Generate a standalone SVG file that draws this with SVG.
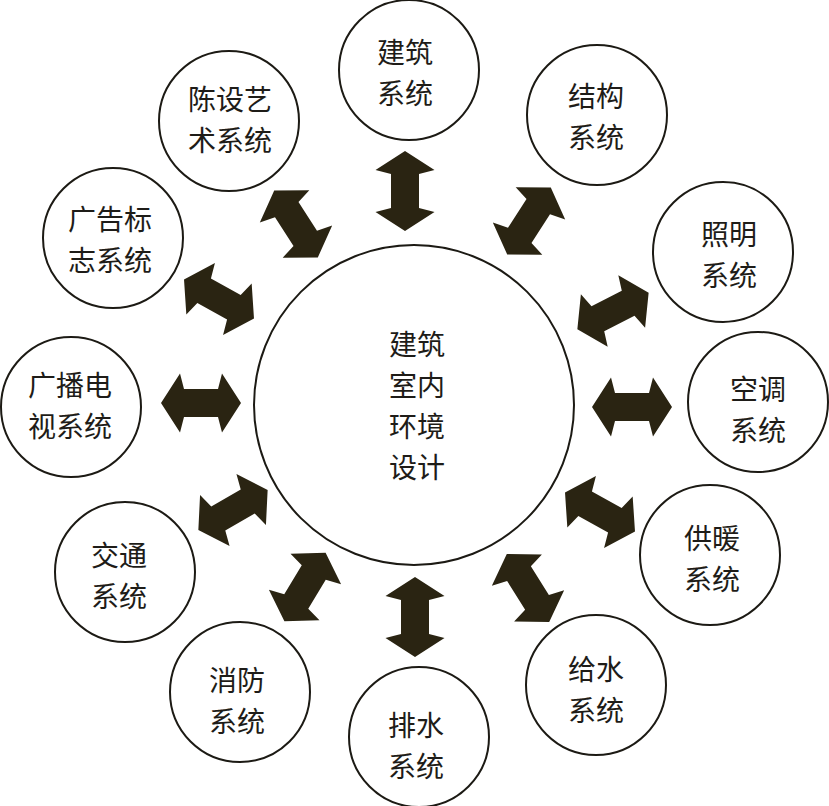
<svg xmlns="http://www.w3.org/2000/svg" xmlns:xlink="http://www.w3.org/1999/xlink" width="829" height="806" viewBox="0 0 829 806">
<style>
.c{fill:#fff;stroke:#1c1a14;stroke-width:2}
.t{font-family:"Noto Sans CJK SC","Noto Sans CJK TC",sans-serif;font-weight:400;font-size:28px;fill:#1e1c18;text-anchor:middle;dominant-baseline:central}
.a{fill:#2a2412}
</style>
<defs>
<path id="arr" d="M40,0 L21,-29.5 L17,-14 L-17,-14 L-21,-29.5 L-40,0 L-21,29.5 L-17,14 L17,14 L21,29.5 Z"/>
</defs>
<rect width="829" height="806" fill="#fff"/>
<g id="connectors" class="a">
<use xlink:href="#arr" transform="translate(405,191) rotate(90)"/>
<use xlink:href="#arr" transform="translate(529,221) rotate(-57)"/>
<use xlink:href="#arr" transform="translate(613,311) rotate(-27)"/>
<use xlink:href="#arr" transform="translate(632,407)"/>
<use xlink:href="#arr" transform="translate(600,512) rotate(29)"/>
<use xlink:href="#arr" transform="translate(528,588) rotate(58)"/>
<use xlink:href="#arr" transform="translate(415,617) rotate(90)"/>
<use xlink:href="#arr" transform="translate(305,587) rotate(-59)"/>
<use xlink:href="#arr" transform="translate(233,510) rotate(-30)"/>
<use xlink:href="#arr" transform="translate(201,403)"/>
<use xlink:href="#arr" transform="translate(219,299) rotate(29)"/>
<use xlink:href="#arr" transform="translate(296,224) rotate(57)"/>
</g>
<g id="center"><circle class="c" cx="414" cy="405" r="160"/>
<text class="t"><tspan x="417" y="342.5">建筑</tspan><tspan x="417" y="383.5">室内</tspan><tspan x="417" y="424.5">环境</tspan><tspan x="417" y="465.5">设计</tspan></text></g>
<g id="n-jianzhu"><circle class="c" cx="409" cy="70" r="70"/><text class="t"><tspan x="405" y="51">建筑</tspan><tspan x="405" y="92">系统</tspan></text></g>
<g id="n-jiegou"><circle class="c" cx="597" cy="115" r="70"/><text class="t"><tspan x="596" y="94.5">结构</tspan><tspan x="596" y="135.5">系统</tspan></text></g>
<g id="n-zhaoming"><circle class="c" cx="723" cy="252" r="70"/><text class="t"><tspan x="729" y="233">照明</tspan><tspan x="729" y="274">系统</tspan></text></g>
<g id="n-kongtiao"><circle class="c" cx="758" cy="402" r="70"/><text class="t"><tspan x="758" y="388">空调</tspan><tspan x="758" y="429">系统</tspan></text></g>
<g id="n-gongnuan"><circle class="c" cx="710" cy="555" r="70"/><text class="t"><tspan x="712" y="537">供暖</tspan><tspan x="712" y="578">系统</tspan></text></g>
<g id="n-geishui"><circle class="c" cx="596" cy="685" r="70"/><text class="t"><tspan x="596" y="668">给水</tspan><tspan x="596" y="709">系统</tspan></text></g>
<g id="n-paishui"><circle class="c" cx="419" cy="737" r="70"/><text class="t"><tspan x="416" y="724">排水</tspan><tspan x="416" y="765">系统</tspan></text></g>
<g id="n-xiaofang"><circle class="c" cx="240" cy="692" r="70"/><text class="t"><tspan x="237" y="678.5">消防</tspan><tspan x="237" y="719.5">系统</tspan></text></g>
<g id="n-jiaotong"><circle class="c" cx="125" cy="572" r="70"/><text class="t"><tspan x="119" y="554">交通</tspan><tspan x="119" y="595">系统</tspan></text></g>
<g id="n-guangbo"><circle class="c" cx="71" cy="407" r="70"/><text class="t"><tspan x="70" y="383.5">广播电</tspan><tspan x="70" y="424.5">视系统</tspan></text></g>
<g id="n-guanggao"><circle class="c" cx="113" cy="238" r="70"/><text class="t"><tspan x="110" y="217.5">广告标</tspan><tspan x="110" y="258.5">志系统</tspan></text></g>
<g id="n-chenshe"><circle class="c" cx="229" cy="121" r="70"/><text class="t"><tspan x="230" y="97.5">陈设艺</tspan><tspan x="230" y="138.5">术系统</tspan></text></g>
</svg>
